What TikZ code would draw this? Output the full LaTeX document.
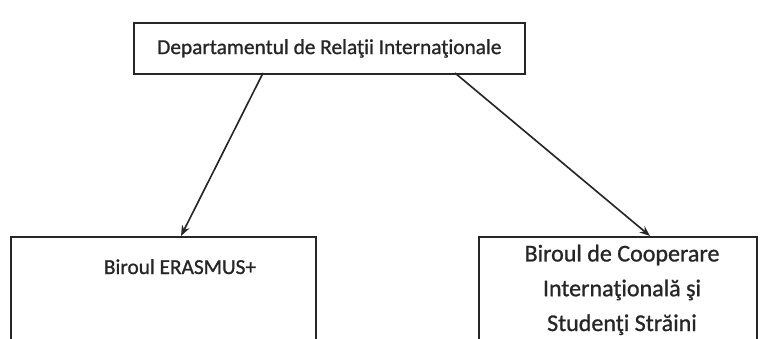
\documentclass[tikz,border=0pt]{standalone}
\usepackage{fontspec}
\setmainfont[FakeBold=1]{Carlito}
\usetikzlibrary{arrows.meta, positioning}

\begin{document}
\begin{tikzpicture}[
        x=0.03cm, y=-0.03cm,
        block/.style={rectangle, draw=black!85, line width=1.6pt, inner sep=0pt},
        lbl/.style={inner sep=0pt, font=\fontsize{18.2}{26}\selectfont, text=black!85},
        link/.style={-{Stealth[length=9pt, width=7pt]}, line width=1.4pt, draw=black!85}
    ]
    \useasboundingbox (0,0) rectangle (764,338);
    \clip (0,0) rectangle (764,338);

    % top box, sized by its text
    \node[block, lbl, draw=black!85, line width=1.6pt, inner xsep=0.7cm, minimum height=1.53cm, anchor=north west] (dept) at (133,22) {Departamentul de Relaţii Internaţionale};

    % lower boxes run past the bottom edge
    \node[block, minimum width=9.15cm, minimum height=4cm, anchor=north west] (erasmus) at (10,236) {};
    \node[block, minimum width=8.34cm, minimum height=4cm, anchor=north west] (coop) at (478,236) {};

    \node[lbl, anchor=base] (erasmustxt) at (180,274) {Biroul ERASMUS+};
    \node[lbl, font=\fontsize{20.5}{26}\selectfont, anchor=base, align=center] (cooptxt) at (622,331) {Biroul de Cooperare\\[0.13cm] Internaţională şi\\[0.13cm] Studenţi Străini};

    \coordinate (d1) at (263,73);
    \coordinate (d2) at (455,73);
    \coordinate (e1) at (181,236);
    \coordinate (c1) at (650,236);
    \draw[link] (d1) -- (e1);
    \draw[link] (d2) -- (c1);

\end{tikzpicture}
\end{document}
